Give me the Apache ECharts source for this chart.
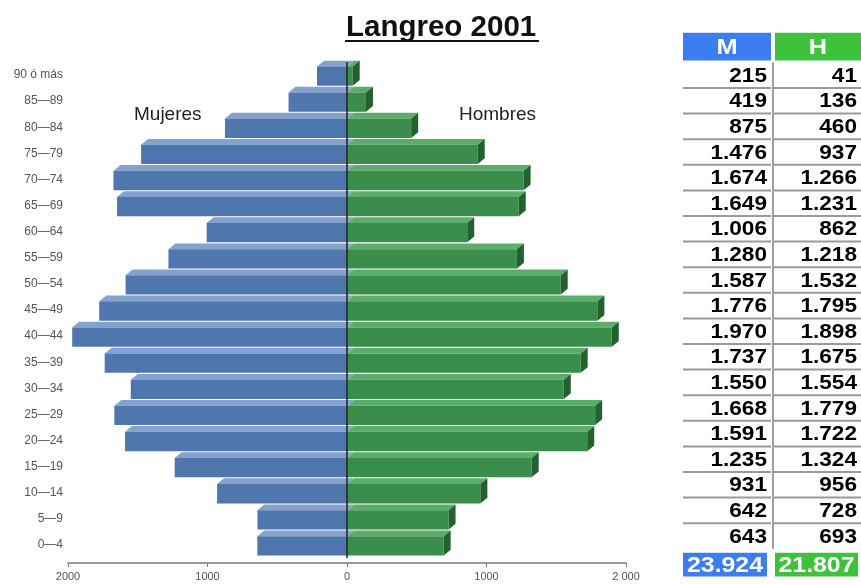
<!DOCTYPE html>
<html>
<head>
<meta charset="utf-8">
<script src="https://cdn.jsdelivr.net/npm/echarts@6/dist/echarts.min.js"></script>
<style>html,body{margin:0;padding:0;background:#fff}#c{width:861px;height:585px}</style>
</head>
<body>
<div id="c"></div>
<script>
// Age groups, bottom (youngest) to top (oldest)
const ages = ['0—4','5—9','10—14','15—19','20—24','25—29','30—34','35—39','40—44','45—49','50—54','55—59','60—64','65—69','70—74','75—79','80—84','85—89','90 ó más'];
const mujeres = [643, 642, 931, 1235, 1591, 1668, 1550, 1737, 1970, 1776, 1587, 1280, 1006, 1649, 1674, 1476, 875, 419, 215];
const hombres = [693, 728, 956, 1324, 1722, 1779, 1554, 1675, 1898, 1795, 1532, 1218, 862, 1231, 1266, 937, 460, 136, 41];
const totales = [23924, 21807];
const columnas = ['M', 'H'];
const xTickLabels = ['2000', '1000', '0', '1000', '2 000'];
const FONT = 'Liberation Sans, Arial, sans-serif';

function fmt(n) { return String(n).replace(/\B(?=(\d{3})+(?!\d))/g, '.'); }

const chart = echarts.init(document.getElementById('c'), null, {renderer: 'canvas'});

const BLUE = {front: '#4f77ad', top: '#83a2cd'};
const GREEN = {front: '#3b8d4b', top: '#5cad69', side: '#23622f'};

function renderBar(params, api) {
  const v = api.value(0), c = api.value(1);
  const p0 = api.coord([0, c]), p1 = api.coord([v, c]);
  const band = api.size([0, 1])[1];
  const fh = band * 0.74, dy = band * 0.22, dx = 7;
  const yt = p0[1] - fh / 2 + 1, yb = p0[1] + fh / 2 + 1;
  const left = Math.min(p0[0], p1[0]), right = Math.max(p0[0], p1[0]);
  const col = v > 0 ? GREEN : BLUE;
  const children = [
    {type: 'polygon', shape: {points: [[left, yt], [left + dx, yt - dy], [right + dx, yt - dy], [right, yt]]}, style: {fill: col.top}},
    {type: 'rect', shape: {x: left, y: yt, width: right - left, height: yb - yt}, style: {fill: col.front}}
  ];
  if (v > 0) {
    children.push({type: 'polygon', shape: {points: [[right, yt], [right + dx, yt - dy], [right + dx, yb - dy], [right, yb]]}, style: {fill: col.side}});
  }
  return {type: 'group', children: children};
}

// Table cells: row 0 header, rows 1..19 data (oldest first), row 20 totals
const nRows = ages.length + 2;
const tableRows = Array.from({length: nRows}, (_, i) => String(i));
const cells = [];
for (let j = 0; j < 2; j++) {
  cells.push({value: [j, 0], kind: 'head', text: columnas[j]});
  for (let k = 0; k < ages.length; k++) {
    const idx = ages.length - 1 - k;
    const val = j === 0 ? mujeres[idx] : hombres[idx];
    cells.push({value: [j, k + 1], kind: 'data', text: fmt(val)});
  }
  cells.push({value: [j, nRows - 1], kind: 'total', text: fmt(totales[j])});
}

function renderCell(params, api) {
  const cell = cells[params.dataIndex];
  const j = api.value(0), i = api.value(1);
  const c = api.coord([j, i]);
  const sz = api.size([1, 1]);
  const w = sz[0], h = sz[1];
  const x0 = c[0] - w / 2, y0 = c[1] - h / 2;
  const bg = j === 0 ? '#3c7df0' : '#3ec23e';
  const children = [];
  if (cell.kind === 'head') {
    const bx = j === 0 ? x0 + 2 : x0 + 4;
    children.push({type: 'rect', shape: {x: bx, y: y0 - 4, width: x0 + w - bx, height: h + 2}, style: {fill: bg}});
    children.push({type: 'text', x: bx + (x0 + w - bx) / 2, y: y0 + h / 2 - 2, scaleX: 1.15,
      style: {text: cell.text, x: 0, y: 0, align: 'center', verticalAlign: 'middle',
      fill: '#fff', fontFamily: FONT, fontWeight: 'bold', fontSize: 22}});
  } else if (cell.kind === 'total') {
    const bx = j === 0 ? x0 + 2 : x0 + 4;
    const bw = j === 0 ? (x0 + w - 4) - bx : (x0 + w - 3) - bx;
    children.push({type: 'rect', shape: {x: bx, y: y0 + 4, width: bw, height: h - 2}, style: {fill: bg}});
    children.push({type: 'text', x: bx + bw / 2, y: c[1] + 4, scaleX: 1.13,
      style: {text: cell.text, x: 0, y: 0, align: 'center', verticalAlign: 'middle',
      fill: '#fff', fontFamily: FONT, fontWeight: 'bold', fontSize: 22}});
  } else {
    if (i < nRows - 2) {
      children.push({type: 'line', shape: {x1: x0 + 2, y1: y0 + h, x2: x0 + w, y2: y0 + h}, style: {stroke: '#9a9a9a', lineWidth: 2}});
    }
    if (j === 0) {
      children.push({type: 'line', shape: {x1: x0 + w + 2, y1: y0, x2: x0 + w + 2, y2: y0 + h}, style: {stroke: '#a0a0a0', lineWidth: 2}});
    }
    children.push({type: 'text', x: x0 + w - 4, y: c[1] + 1, scaleX: 1.13,
      style: {text: cell.text, x: 0, y: 0, align: 'right', verticalAlign: 'middle',
      fill: '#000', fontFamily: FONT, fontWeight: 'bold', fontSize: 20}});
  }
  return {type: 'group', children: children};
}

const option = {
  animation: false,
  backgroundColor: '#fff',
  title: {
    text: 'Langreo 2001', left: 341, top: 8,
    textStyle: {fontFamily: FONT, fontWeight: 'bold', fontSize: 29.5, color: '#111'}
  },
  graphic: [
    {type: 'line', shape: {x1: 345, y1: 41, x2: 539, y2: 41}, style: {stroke: '#111', lineWidth: 2}},
    {type: 'text', left: 134, top: 105, style: {text: 'Mujeres', fontFamily: FONT, fontSize: 19, fill: '#222'}},
    {type: 'text', left: 459, top: 105, style: {text: 'Hombres', fontFamily: FONT, fontSize: 19, fill: '#222'}}
  ],
  grid: [
    {left: 68, right: 235, top: 62, bottom: 27},
    {left: 681, width: 180, top: 36.8, height: 537.6}
  ],
  xAxis: [
    {
      type: 'value', gridIndex: 0, min: -2000, max: 2000, interval: 1000, offset: 5,
      axisLine: {show: true, lineStyle: {color: '#7a7a7a', width: 1.5}},
      axisTick: {show: true, length: 4, lineStyle: {color: '#7a7a7a'}},
      splitLine: {show: false},
      axisLabel: {fontFamily: FONT, fontSize: 11, color: '#555', margin: 8,
        formatter: v => xTickLabels[Math.round((v + 2000) / 1000)]}
    },
    {type: 'category', gridIndex: 1, data: columnas, show: false}
  ],
  yAxis: [
    {
      type: 'category', gridIndex: 0, data: ages,
      axisLine: {show: false}, axisTick: {show: false},
      axisLabel: {fontFamily: FONT, fontSize: 12, color: '#555', margin: 5}
    },
    {type: 'category', gridIndex: 1, data: tableRows, inverse: true, show: false}
  ],
  series: [
    {
      type: 'custom', name: 'Mujeres', xAxisIndex: 0, yAxisIndex: 0,
      encode: {x: 0, y: 1}, renderItem: renderBar,
      data: mujeres.map((v, i) => [-v, i]), z: 2
    },
    {
      type: 'custom', name: 'Hombres', xAxisIndex: 0, yAxisIndex: 0,
      encode: {x: 0, y: 1}, renderItem: renderBar,
      data: hombres.map((v, i) => [v, i]), z: 3
    },
    {
      type: 'line', xAxisIndex: 0, yAxisIndex: 0, data: [], z: 5,
      markLine: {silent: true, symbol: 'none', label: {show: false},
        lineStyle: {color: '#222', width: 1.5, type: 'solid'}, data: [{xAxis: 0}]}
    },
    {
      type: 'custom', name: 'tabla', xAxisIndex: 1, yAxisIndex: 1,
      encode: {x: 0, y: 1}, renderItem: renderCell, data: cells
    }
  ]
};
chart.setOption(option);
</script>
</body>
</html>
